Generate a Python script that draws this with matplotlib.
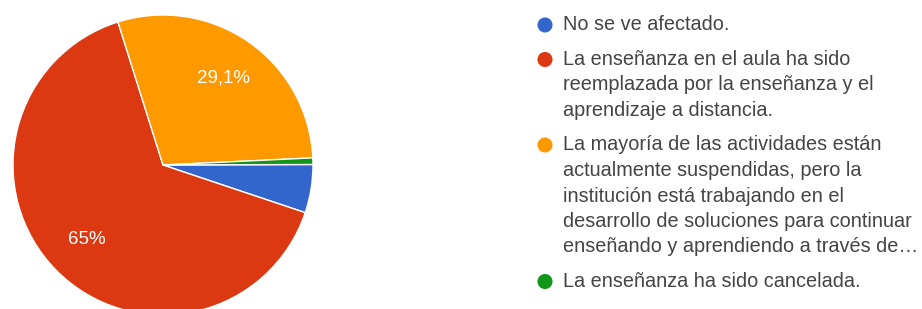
import matplotlib.pyplot as plt

# Data
categories = [
    "No se ve afectado.",
    "La enseñanza en el aula ha sido\nreemplazada por la enseñanza y el\naprendizaje a distancia.",
    "La mayoría de las actividades están\nactualmente suspendidas, pero la\ninstitución está trabajando en el\n"
    "desarrollo de soluciones para continuar\nenseñando y aprendiendo a través de…",
    "La enseñanza ha sido cancelada.",
]
percentages = [5.2, 65.0, 29.1, 0.7]
colors = ["#3366cc", "#dc3912", "#ff9900", "#109618"]

plt.rcParams["font.family"] = ["Liberation Sans", "DejaVu Sans"]

W, H = 922, 309
fig = plt.figure(figsize=(W / 100, H / 100), dpi=100)
fig.patch.set_facecolor("white")

# Pie axes: center (163, 164) px, radius 150 px
cx, cy, r = 163, 165, 150
ax = fig.add_axes([(cx - r) / W, (H - cy - r) / H, 2 * r / W, 2 * r / H])


def fmt_pct(p):
    if p < 8:
        return ""
    s = f"{p:.1f}".replace(".", ",")
    if s.endswith(",0"):
        s = s[:-2]
    return s + "%"


wedges, texts, autotexts = ax.pie(
    percentages,
    colors=colors,
    startangle=0.2,
    counterclock=False,
    autopct=fmt_pct,
    pctdistance=0.71,
    radius=1.0,
    wedgeprops=dict(edgecolor="white", linewidth=1.0),
    textprops=dict(color="white", fontsize=13.5),
)
ax.set_xlim(-1, 1)
ax.set_ylim(-1, 1)
ax.set_aspect("equal")

# Legend drawn in pixel coordinates
lg = fig.add_axes([0, 0, 1, 1])
lg.set_xlim(0, W)
lg.set_ylim(H, 0)
lg.axis("off")

y = 25
line_h = 25.5
item_gap = 34.5
for label, color in zip(categories, colors):
    lg.scatter([545], [y], s=118, color=color, edgecolors="none")
    lines = label.split("\n")
    for i, line in enumerate(lines):
        lg.text(563, y + i * line_h, line, va="center", ha="left",
                fontsize=14.3, color="#444444")
    y += (len(lines) - 1) * line_h + item_gap

fig.savefig("out.png", dpi=100, facecolor="white")
